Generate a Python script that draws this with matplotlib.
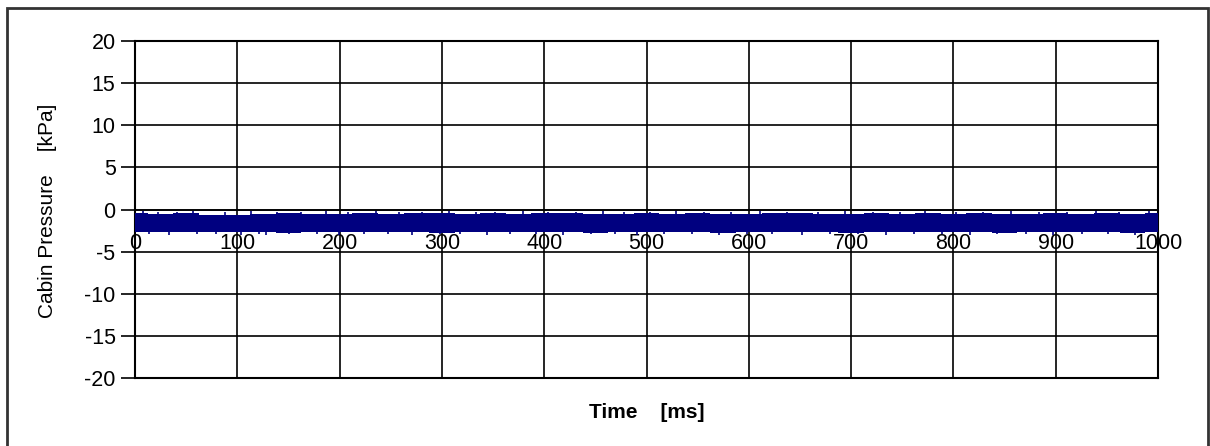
import matplotlib.pyplot as plt
from matplotlib.patches import Rectangle

# envelope of the pressure trace, read every 25 ms
t_env = list(range(0, 1001, 25))
upper = [-0.4, -0.5, -0.4, -0.7, -0.6, -0.5, -0.4, -0.5, -0.5, -0.4, -0.5,
         -0.4, -0.4, -0.5, -0.4, -0.5, -0.4, -0.4, -0.5, -0.5, -0.4, -0.5,
         -0.4, -0.5, -0.5, -0.4, -0.4, -0.5, -0.5, -0.4, -0.5, -0.4, -0.5,
         -0.4, -0.5, -0.5, -0.4, -0.5, -0.4, -0.5, -0.4]
lower = [-2.7, -2.7, -2.7, -2.7, -2.7, -2.7, -2.8, -2.7, -2.7, -2.7, -2.7,
         -2.7, -2.8, -2.7, -2.7, -2.7, -2.7, -2.7, -2.8, -2.7, -2.7, -2.7,
         -2.7, -2.8, -2.7, -2.7, -2.7, -2.7, -2.8, -2.7, -2.7, -2.7, -2.7,
         -2.7, -2.8, -2.7, -2.7, -2.7, -2.7, -2.8, -2.7]

# single spikes sticking out of the band
spike_up_t = [8, 22, 41, 57, 88, 113, 139, 162, 187, 208, 236, 258, 281, 307,
              333, 352, 379, 404, 431, 457, 478, 503, 529, 556, 583, 611, 637,
              668, 694, 721, 748, 772, 803, 829, 856, 884, 911, 939, 962, 991]
spike_up_v = [-0.2, -0.3, -0.3, -0.2, -0.3, -0.2, -0.3, -0.3, -0.2, -0.3,
              -0.2, -0.3, -0.3, -0.2, -0.3, -0.3, -0.2, -0.3, -0.3, -0.2,
              -0.3, -0.3, -0.2, -0.3, -0.3, -0.2, -0.3, -0.3, -0.2, -0.3,
              -0.3, -0.2, -0.3, -0.3, -0.2, -0.3, -0.3, -0.2, -0.3, -0.2]
spike_dn_t = [14, 33, 61, 79, 104, 121, 128, 151, 178, 199, 224, 247, 271,
              298, 318, 344, 367, 392, 418, 446, 469, 491, 517, 544, 571, 598,
              623, 652, 679, 707, 734, 761, 789, 816, 843, 871, 897, 926, 951,
              978]
spike_dn_v = [-2.9, -3.0, -2.9, -2.9, -3.0, -2.9, -3.0, -2.9, -2.9, -3.0,
              -2.9, -2.9, -3.0, -2.9, -2.9, -3.0, -2.9, -2.9, -3.0, -2.9,
              -2.9, -3.0, -2.9, -2.9, -3.0, -2.9, -2.9, -3.0, -2.9, -2.9,
              -3.0, -2.9, -2.9, -3.0, -2.9, -2.9, -3.0, -2.9, -2.9, -3.0]

x_ticks = list(range(0, 1001, 100))
y_ticks = list(range(-20, 21, 5))

plt.rcParams['font.family'] = ['Liberation Sans', 'DejaVu Sans']
plt.rcParams['axes.unicode_minus'] = False

fig = plt.figure(figsize=(12.1, 4.46), dpi=100)
ax = fig.add_axes([135 / 1210, 68 / 446, 1023 / 1210, 337 / 446])

navy = '#000080'
ax.fill_between(t_env, lower, upper, color=navy, lw=0, step='mid', zorder=3)
ax.vlines(spike_up_t, -1.0, spike_up_v, color=navy, lw=1.2, zorder=3)
ax.vlines(spike_dn_t, spike_dn_v, -2.0, color=navy, lw=1.2, zorder=3)

ax.set_xlim(0, 1000)
ax.set_ylim(-20, 20)
ax.set_xticks(x_ticks)
ax.set_yticks(y_ticks)
ax.grid(True, color='black', lw=1.2, zorder=1)
ax.set_axisbelow(True)

for s in ax.spines.values():
    s.set_linewidth(1.5)
    s.set_color('black')
ax.spines['bottom'].set_position(('data', 0))
ax.spines['bottom'].set_linewidth(1.2)

ax.tick_params(axis='y', length=10, width=1.2, direction='out', labelsize=15.5, pad=4)
ax.tick_params(axis='x', length=0, labelsize=15.5, pad=17)
for lab in ax.get_xticklabels():
    lab.set_zorder(5)

# frame line at y=-20 stays as the bottom of the plot area
ax.plot([0, 1000], [-20, -20], color='black', lw=1.5, clip_on=False, zorder=4)

fig.text(48 / 1210, 1 - 211 / 446, 'Cabin Pressure    [kPa]', rotation=90,
         ha='center', va='center', fontsize=15)
fig.text(647 / 1210, 1 - 413 / 446, 'Time    [ms]', ha='center', va='center',
         fontsize=15, fontweight='bold')

# outer chart border (bottom edge runs off the image)
fig.patches.append(Rectangle((7 / 1210, -0.1), 1201 / 1210, 1.1 - 8 / 446,
                             transform=fig.transFigure, fill=False,
                             edgecolor='#333333', lw=2))

fig.savefig('out.png', dpi=100)
